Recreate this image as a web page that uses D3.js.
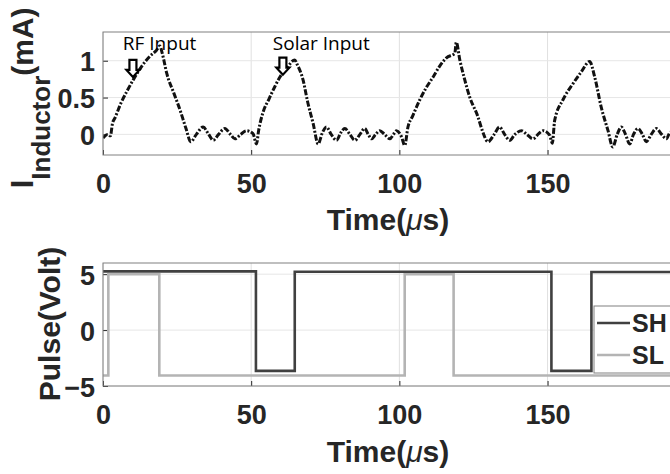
<!DOCTYPE html>
<html>
<head>
<meta charset="utf-8">
<script src="https://cdn.jsdelivr.net/npm/d3@7"></script>
<style>
  body { margin: 0; background: #fff; }
  svg { display: block; }
  .tick-label { font-family: "Liberation Sans", Arial, sans-serif; font-weight: bold; font-size: 27px; fill: #262626; }
  .ax-label { font-family: "Liberation Sans", Arial, sans-serif; font-weight: bold; font-size: 30px; fill: #262626; }
  .note { font-family: "Open Sans", sans-serif; font-size: 19px; fill: #000; }
</style>
</head>
<body>
<div id="graph"></div>
<script>
const w = 670;
const h = 474;

// inductor current (mA) vs time (us)
const tI = [0, 1.5, 2.5, 3.2, 4, 6, 8, 10.2, 13, 15.8, 18, 19.2,
  20, 21.5, 24, 26, 28, 29.6,
  31.5, 33.8, 35.5, 37.2, 39, 41.1, 43, 44.5, 46.5, 48.4, 50.6, 51.8,
  52.5, 54, 56, 58, 59.7, 62, 64.7,
  65.5, 67.5, 69, 70.9, 72.6,
  74, 75.4, 77, 78.8, 80.2, 81.6, 83.3, 85, 86.7, 88.3, 89.5, 90.6, 92, 93.4, 95, 96.8, 98, 99, 100.7, 101.8,
  102.9, 104.5, 106.9, 109, 111.4, 113.5, 115.9, 118.7, 119.2,
  120.4, 122, 123.7, 126.5, 128, 129.9,
  132, 133.8, 135.5, 137.2, 139, 141.2, 143, 145.1, 147, 148.5, 150.7, 151.6,
  152.4, 155.2, 158.6, 161.4, 164.2,
  165.9, 168.1, 170.4, 172,
  173.5, 174.9, 176.3, 177.7, 179, 180.5, 182, 183.3, 185, 186.7, 188.5, 190.1, 191.2, 193];
const iL = [-0.05, 0.0, -0.02, 0.15, 0.22, 0.42, 0.58, 0.74, 0.92, 1.06, 1.14, 1.2,
  1.1, 0.83, 0.55, 0.33, 0.08, -0.1,
  0.0, 0.1, 0.01, -0.08, 0.0, 0.08, 0.0, -0.06, 0.0, 0.05, 0.01, -0.13,
  0.05, 0.3, 0.48, 0.65, 0.78, 0.9, 1.01,
  0.95, 0.74, 0.45, 0.15, -0.13,
  0.02, 0.1, 0.0, -0.08, 0.02, 0.08, 0.0, -0.08, 0.0, 0.08, 0.0, -0.06, 0.0, 0.05, 0.0, -0.06, 0.0, 0.05, -0.03, -0.15,
  0.1, 0.25, 0.47, 0.63, 0.78, 0.92, 1.04, 1.1, 1.25,
  1.01, 0.75, 0.51, 0.24, 0.05, -0.1,
  0.0, 0.1, 0.0, -0.08, 0.0, 0.05, 0.0, -0.06, 0.01, 0.05, -0.01, -0.12,
  0.19, 0.47, 0.69, 0.85, 0.99,
  0.78, 0.37, 0.05, -0.17,
  0.0, 0.1, 0.0, -0.13, 0.0, 0.08, 0.0, -0.1, 0.0, 0.08, 0.0, -0.06, 0.02, 0.05];

// switching pulses (V), value holds from each time until the next
const tSH = [0, 51.6, 64.7, 151.3, 164.8, 193];
const vSH = [5.25, -3.65, 5.22, -3.65, 5.2, 5.2];
const tSL = [0, 1.8, 19, 101.8, 118.3, 193];
const vSL = [-4.06, 5.0, -4.06, 5.0, -4.06, -4.06];

const xTicks = [0, 50, 100, 150];
const yTicksI = [0, 0.5, 1];
const yTicksP = [-5, 0, 5];

const notes = [
  { text: "RF Input", tx: 6.7, ty: 1.15, ax: 10.1, ay: 0.78 },
  { text: "Solar Input", tx: 57.3, ty: 1.15, ax: 60.7, ay: 0.81 }
];
const legendNames = ["SH", "SL"];
const colors = ["#404040", "#b4b4b4"];

const svg = d3.select("#graph").append("svg")
  .attr("width", w).attr("height", h);

function panel(top, bottom, yDomain, yTicks, fmt, id) {
  const x = d3.scaleLinear().domain([0, 193]).range([103, 675]);
  const y = d3.scaleLinear().domain(yDomain).range([bottom, top]);
  const g = svg.append("g");

  g.append("clipPath").attr("id", id).append("rect")
    .attr("x", 103).attr("y", top).attr("width", 572).attr("height", bottom - top);

  // grid
  g.selectAll(".gx").data(xTicks).enter().append("line")
    .attr("x1", d => x(d)).attr("x2", d => x(d))
    .attr("y1", top).attr("y2", bottom)
    .attr("stroke", "#e0e0e0").attr("stroke-width", 1);
  g.selectAll(".gy").data(yTicks).enter().append("line")
    .attr("x1", 103).attr("x2", 675)
    .attr("y1", d => y(d)).attr("y2", d => y(d))
    .attr("stroke", "#e6e6e6").attr("stroke-width", 1);

  // axes with inward ticks
  const xAxis = g.append("g").attr("transform", "translate(0," + bottom + ")")
    .call(d3.axisBottom(x).tickValues(xTicks).tickSize(-5).tickFormat(d3.format("d")));
  const yAxis = g.append("g").attr("transform", "translate(103,0)")
    .call(d3.axisLeft(y).tickValues(yTicks).tickSize(-5).tickPadding(8).tickFormat(fmt));
  [xAxis, yAxis].forEach(a => {
    a.select(".domain").remove();
    a.selectAll(".tick line").attr("stroke", "#262626");
    a.selectAll(".tick text").attr("class", "tick-label").attr("fill", null);
  });
  xAxis.selectAll(".tick text").attr("dy", null).attr("y", 38);
  yAxis.selectAll(".tick text").attr("dy", "0.38em");

  return { x, y, g };
}

// ---- top: inductor current
const p1 = panel(32, 155, [-0.28, 1.39], yTicksI, d => d, "clip1");
const lineI = d3.line().curve(d3.curveMonotoneX)
  .x((d, i) => p1.x(tI[i])).y(d => p1.y(d));
p1.g.append("path").datum(iL)
  .attr("clip-path", "url(#clip1)")
  .attr("d", lineI)
  .attr("fill", "none").attr("stroke", "#111")
  .attr("stroke-width", 3)
  .attr("stroke-dasharray", "6,1.8,2,1.8");

notes.forEach(n => {
  p1.g.append("text").attr("class", "note")
    .attr("x", p1.x(n.tx)).attr("y", p1.y(n.ty)).text(n.text);
  const ax = p1.x(n.ax), ay = p1.y(n.ay);
  const arrow = d3.path();
  arrow.moveTo(ax, ay);
  arrow.lineTo(ax - 6.5, ay - 7);
  arrow.lineTo(ax - 3.5, ay - 7);
  arrow.lineTo(ax - 3.5, ay - 17);
  arrow.lineTo(ax + 3.5, ay - 17);
  arrow.lineTo(ax + 3.5, ay - 7);
  arrow.lineTo(ax + 6.5, ay - 7);
  arrow.closePath();
  p1.g.append("path").attr("d", arrow.toString())
    .attr("fill", "#fff").attr("stroke", "#000").attr("stroke-width", 2.2)
    .attr("stroke-linejoin", "miter");
});

p1.g.append("rect").attr("x", 103).attr("y", 32).attr("width", 700).attr("height", 123)
  .attr("fill", "none").attr("stroke", "#808080").attr("stroke-width", 1);

const yl1 = svg.append("text").attr("class", "ax-label")
  .attr("text-anchor", "middle")
  .attr("transform", "translate(33,98) rotate(-90)");
yl1.append("tspan").style("font-size", "32px").text("I");
yl1.append("tspan").style("font-size", "26px").attr("dy", 17).text("Inductor");
yl1.append("tspan").attr("dy", -17).text("(mA)");

// ---- bottom: pulses
const p2 = panel(263, 386, [-5, 6], yTicksP, d3.format("d"), "clip2");
const stepLine = ts => d3.line().curve(d3.curveStepAfter)
  .x((d, i) => p2.x(ts[i])).y(d => p2.y(d));
[[tSL, vSL, colors[1]], [tSH, vSH, colors[0]]].forEach(s => {
  p2.g.append("path").datum(s[1])
    .attr("clip-path", "url(#clip2)")
    .attr("d", stepLine(s[0]))
    .attr("fill", "none").attr("stroke", s[2]).attr("stroke-width", 2.6);
});

p2.g.append("rect").attr("x", 103).attr("y", 263).attr("width", 700).attr("height", 123)
  .attr("fill", "none").attr("stroke", "#808080").attr("stroke-width", 1);

// legend
const lg = svg.append("g").attr("transform", "translate(594,306)");
lg.append("rect").attr("width", 100).attr("height", 67)
  .attr("fill", "#fff").attr("stroke", "#808080").attr("stroke-width", 1);
legendNames.forEach((name, i) => {
  const yy = 17 + i * 32;
  lg.append("line").attr("x1", 3).attr("x2", 36).attr("y1", yy).attr("y2", yy)
    .attr("stroke", colors[i]).attr("stroke-width", 2.6);
  lg.append("text").attr("class", "ax-label").style("font-size", "25px")
    .attr("x", 38).attr("y", yy + 9).text(name);
});

svg.append("text").attr("class", "ax-label")
  .attr("text-anchor", "middle")
  .attr("transform", "translate(60,324) rotate(-90)")
  .text("Pulse(Volt)");

// x labels
[230, 462].forEach(by => {
  const t = svg.append("text").attr("class", "ax-label")
    .attr("text-anchor", "middle").attr("x", 388).attr("y", by);
  t.append("tspan").text("Time(");
  t.append("tspan").attr("font-style", "italic").attr("font-weight", "normal").text("\u03bc");
  t.append("tspan").text("s)");
});
</script>
</body>
</html>
